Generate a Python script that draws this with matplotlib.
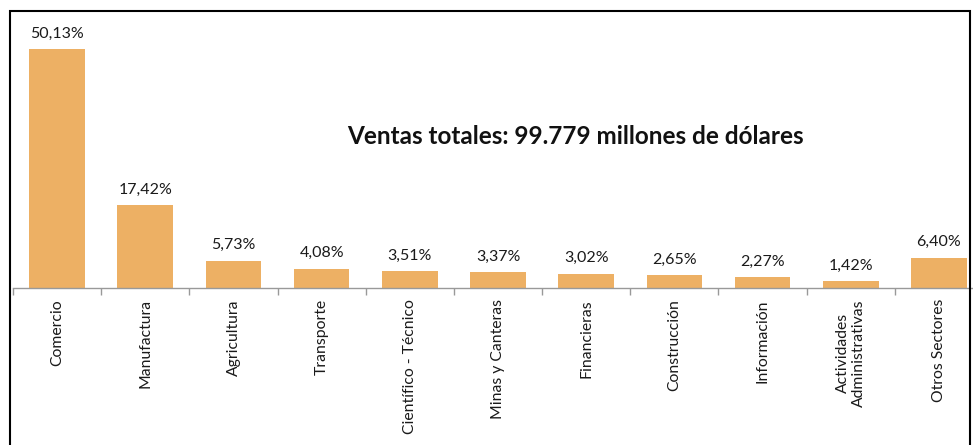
import matplotlib
matplotlib.use("Agg")
import matplotlib.pyplot as plt
import numpy as np
from matplotlib.patches import Rectangle

categories = ["Comercio", "Manufactura", "Agricultura", "Transporte", "Científico - Técnico",
              "Minas y Canteras", "Financieras", "Construcción", "Información",
              "Actividades\nAdministrativas", "Otros Sectores"]
values = [50.13, 17.42, 5.73, 4.08, 3.51, 3.37, 3.02, 2.65, 2.27, 1.42, 6.40]
labels = ["50,13%", "17,42%", "5,73%", "4,08%", "3,51%", "3,37%", "3,02%", "2,65%",
          "2,27%", "1,42%", "6,40%"]
title = "Ventas totales: 99.779 millones de dólares"

plt.rcParams['font.family'] = ['Lato', 'DejaVu Sans']

fig = plt.figure(figsize=(9.73, 4.45), dpi=100)
W, H = 973, 445
ax = fig.add_axes([13 / W, (H - 288) / H, 970 / W, 262 / H])

x = np.arange(len(categories))
bars = ax.bar(x, values, width=0.63, color="#EDB064")
for xi, v, lab in zip(x, values, labels):
    ax.annotate(lab, (xi, v), xytext=(0, 6), textcoords="offset points",
                ha="center", va="bottom", fontsize=11.5, color="#1a1a1a")

ax.set_xlim(-0.5, len(categories) - 0.5)
ax.set_ylim(0, 55)
ax.set_xticks(np.arange(-0.5, len(categories), 1.0))
ax.set_xticklabels([])
ax.tick_params(axis="x", which="major", length=5, color="#999999", width=1)
ax.set_xticks(x, minor=True)
ax.set_xticklabels(categories, minor=True, rotation=90, fontsize=11.3, color="#1a1a1a",
                   va="top", ha="center")
ax.tick_params(axis="x", which="minor", length=0, pad=8)
ax.set_yticks([])
for s in ["top", "right", "left"]:
    ax.spines[s].set_visible(False)
ax.spines["bottom"].set_color("#999999")
ax.spines["bottom"].set_linewidth(1)

fig.text(575 / W, 1 - 137 / H, title, ha="center", va="center", fontsize=17.5,
         fontweight="bold", color="#111111")

fig.add_artist(Rectangle((9.5 / W, -0.1), (970 - 9.5) / W, 1.1 - 11 / H,
                         transform=fig.transFigure, fill=False, edgecolor="black",
                         linewidth=1.5, clip_on=False))

fig.savefig("out.png", dpi=100)
